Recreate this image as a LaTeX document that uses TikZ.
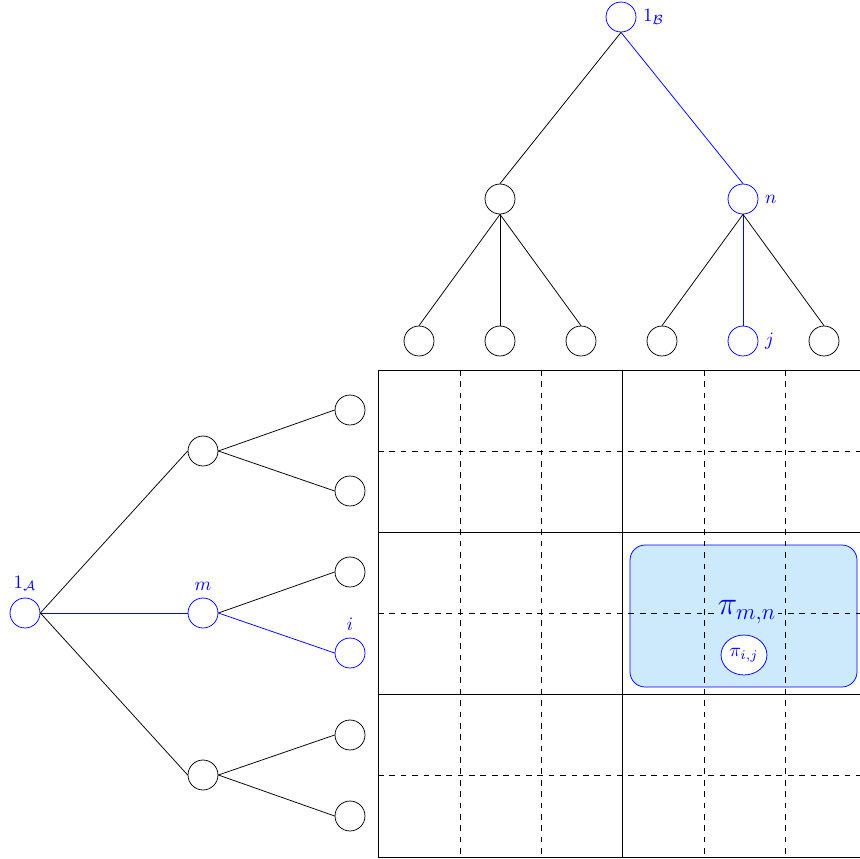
\documentclass[tikz,border=0pt]{standalone}
\usetikzlibrary{shapes.geometric}
\definecolor{boxfill}{RGB}{204,234,251}
\begin{document}
\begin{tikzpicture}[x=0.018519cm,y=-0.018519cm,
  vnode/.style={circle,draw,minimum size=0.555cm,inner sep=0pt},
  bnode/.style={vnode,draw=blue},
  bedge/.style={draw=blue},
  blab/.style={text=blue}]
\useasboundingbox (0,0) rectangle (859,859);
% blue box
\draw[blue,fill=boxfill,rounded corners=8] (630,545) rectangle (857,687);
% grid
\foreach \x in {460,541,704,785} \draw[dashed] (\x,370) -- (\x,857);
\foreach \y in {451,613,775} \draw[dashed] (378,\y) -- (864,\y);
\foreach \x in {378,622,864} \draw (\x,370) -- (\x,857);
\foreach \y in {370,532,694,857} \draw (378,\y) -- (864,\y);
\node[fill=boxfill,inner sep=1pt,text=blue] (pmn) at (747,612) {\LARGE$\pi_{m,n}$};
\node[ellipse,draw=blue,fill=white,text=blue,inner sep=1pt,minimum width=0.83cm,minimum height=0.74cm] (pij) at (744,655) {$\pi_{i,j}$};
% top tree
\node[bnode,label={[blab]right:$1_{\mathcal{B}}$}] (b) at (621,17) {};
\node[vnode] (b1) at (500,199) {};
\node[bnode,label={[blab]right:$n$}] (b2) at (743,199) {};
\node[vnode] (b11) at (419,341) {};
\node[vnode] (b12) at (500,341) {};
\node[vnode] (b13) at (581,341) {};
\node[vnode] (b21) at (662,341) {};
\node[bnode,label={[blab]right:$j$}] (b22) at (743,341) {};
\node[vnode] (b23) at (824,341) {};
\draw (b.south) -- (b1.north);
\draw[bedge] (b.south) -- (b2.north);
\draw (b1.south) -- (b11.north);
\draw (b1.south) -- (b12.north);
\draw (b1.south) -- (b13.north);
\draw (b2.south) -- (b21.north);
\draw[bedge] (b2.south) -- (b22.north);
\draw (b2.south) -- (b23.north);
% left tree
\node[bnode,label={[blab]above:$1_{\mathcal{A}}$}] (a) at (25,613) {};
\node[vnode] (a1) at (203,451) {};
\node[bnode,label={[blab]above:$m$}] (a2) at (203,613) {};
\node[vnode] (a3) at (203,775) {};
\node[vnode] (a11) at (350,410) {};
\node[vnode] (a12) at (350,491) {};
\node[vnode] (a21) at (350,572) {};
\node[bnode,label={[blab]above:$i$}] (a22) at (350,653) {};
\node[vnode] (a31) at (350,735) {};
\node[vnode] (a32) at (350,816) {};
\draw (a.east) -- (a1.west);
\draw[bedge] (a.east) -- (a2.west);
\draw (a.east) -- (a3.west);
\draw (a1.east) -- (a11.west);
\draw (a1.east) -- (a12.west);
\draw (a2.east) -- (a21.west);
\draw[bedge] (a2.east) -- (a22.west);
\draw (a3.east) -- (a31.west);
\draw (a3.east) -- (a32.west);
\end{tikzpicture}
\end{document}
